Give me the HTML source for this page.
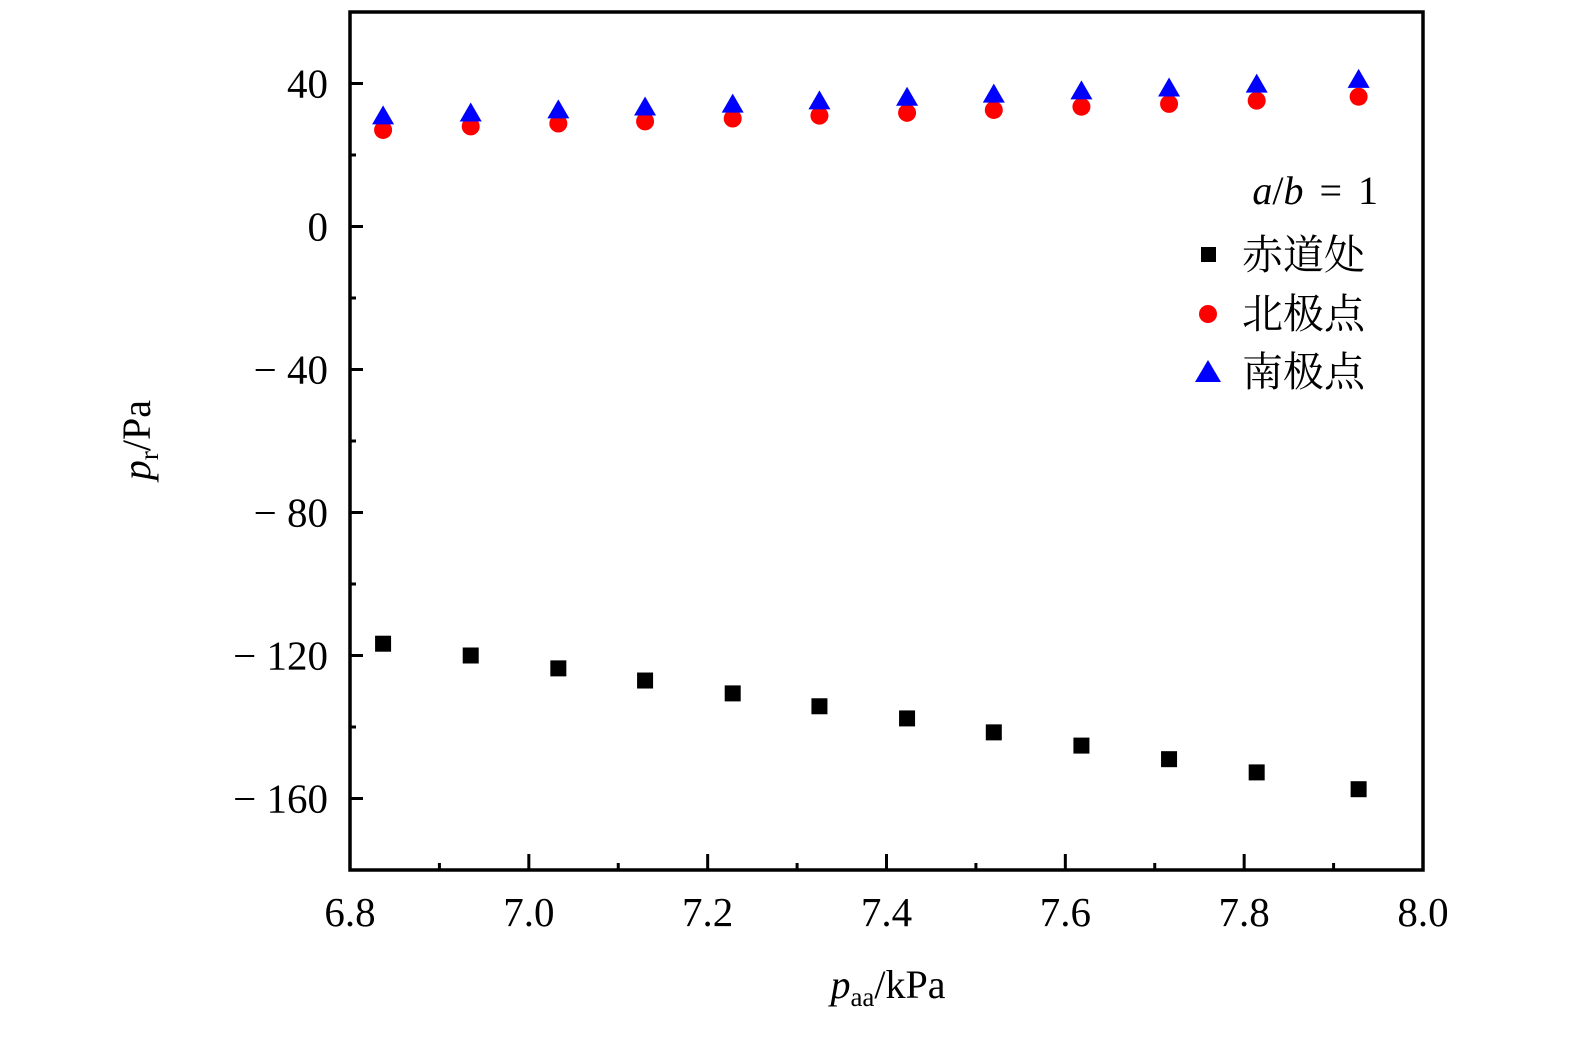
<!DOCTYPE html>
<html><head><meta charset="utf-8"><style>
html,body{margin:0;padding:0;background:#fff;}
svg text{font-family:"Liberation Serif","Noto Serif CJK SC",serif;}
</style></head><body>
<svg id="chart" width="1575" height="1033" viewBox="0 0 1575 1033" xmlns="http://www.w3.org/2000/svg">
<g id="axes"></g>
<g id="marks"></g>
<text transform="translate(150,440) rotate(-90)" text-anchor="middle" font-size="40"><tspan font-style="italic">p</tspan><tspan font-size="27" dy="8">r</tspan><tspan dy="-8">/Pa</tspan></text>
<text x="888" y="998" text-anchor="middle" font-size="40"><tspan font-style="italic">p</tspan><tspan font-size="27" dy="8">aa</tspan><tspan dy="-8">/kPa</tspan></text>
<g>
<text x="1378" y="204" text-anchor="end" font-size="40" word-spacing="6"><tspan font-style="italic">a</tspan>/<tspan font-style="italic">b</tspan> = 1</text>
<rect x="1201" y="247" width="15" height="15" fill="#000"/>
<text x="1242" y="269" font-size="41" font-family="Noto Serif CJK SC, serif">赤道处</text>
<circle cx="1208" cy="314" r="9" fill="#f00"/>
<text x="1242" y="328" font-size="41" font-family="Noto Serif CJK SC, serif">北极点</text>
<polygon points="1208,360 1221,382 1195,382" fill="#00f"/>
<text x="1242" y="386" font-size="41" font-family="Noto Serif CJK SC, serif">南极点</text>
</g>
</svg>
<script>
const xValues=[6.837,6.935,7.033,7.13,7.228,7.325,7.423,7.52,7.618,7.716,7.814,7.928];
const equatorValues=[-116.7,-120,-123.6,-127,-130.6,-134.2,-137.6,-141.5,-145.2,-149,-152.7,-157.4];
const northValues=[27,28,28.8,29.4,30.2,31,31.8,32.6,33.5,34.3,35.2,36.3];
const southValues=[30.8,31.6,32.5,33.3,34.1,35,36,36.9,37.8,38.6,39.7,41];
const xTicks=[6.8,7.0,7.2,7.4,7.6,7.8,8.0];
const xTickLabels=["6.8","7.0","7.2","7.4","7.6","7.8","8.0"];
const yTicks=[40,0,-40,-80,-120,-160];
const yTickLabels=["40","0","\u2212 40","\u2212 80","\u2212 120","\u2212 160"];
const X0=350,X1=1423,Y0=870,Y1=12;
const xMin=6.8,xMax=8.0,yMin=-180,yMax=60;
const sx=v=>X0+(v-xMin)/(xMax-xMin)*(X1-X0);
const sy=v=>Y0-(v-yMin)/(yMax-yMin)*(Y0-Y1);
const NS="http://www.w3.org/2000/svg";
const axes=document.getElementById('axes'),marks=document.getElementById('marks');
function mk(tag,attrs,parent){const e=document.createElementNS(NS,tag);for(const k in attrs)e.setAttribute(k,attrs[k]);parent.appendChild(e);return e;}
const frame=mk('rect',{x:X0,y:Y1,width:X1-X0,height:Y0-Y1,fill:'none',stroke:'#000','stroke-width':3.5},axes);


for(let i=0;i<=12;i++){const v=xMin+i*0.1;const x=sx(v);const len=i%2===0?16:7;
 const t=mk('line',{x1:x,x2:x,y1:Y0,y2:Y0-len,stroke:'#000','stroke-width':3},axes);
 
 }
xTicks.forEach((v,i)=>{const t=mk('text',{x:sx(v),y:926,'text-anchor':'middle','font-size':41},axes);t.textContent=xTickLabels[i];
 
 });
for(let v=-180;v<=60;v+=20){const y=sy(v);const len=(v%40===0)?13:6;
 const t=mk('line',{x1:X0,x2:X0+len,y1:y,y2:y,stroke:'#000','stroke-width':3},axes);
 
 }
yTicks.forEach((v,i)=>{const t=mk('text',{x:328,y:sy(v)+14,'text-anchor':'end','font-size':41},axes);t.textContent=yTickLabels[i];
 
 });
xValues.forEach((xv,i)=>{const x=sx(xv);
 let y=sy(equatorValues[i]);
 const s=mk('rect',{x:x-8,y:y-8,width:16,height:16,fill:'#000'},marks);
 
 
 y=sy(northValues[i]);
 const c=mk('circle',{cx:x,cy:y,r:9,fill:'#f00'},marks);
 
 
 y=sy(southValues[i]);
 const p=mk('polygon',{points:`${x},${y-11} ${x+11},${y+8} ${x-11},${y+8}`,fill:'#00f'},marks);
 
 
});
</script>
</body></html>
